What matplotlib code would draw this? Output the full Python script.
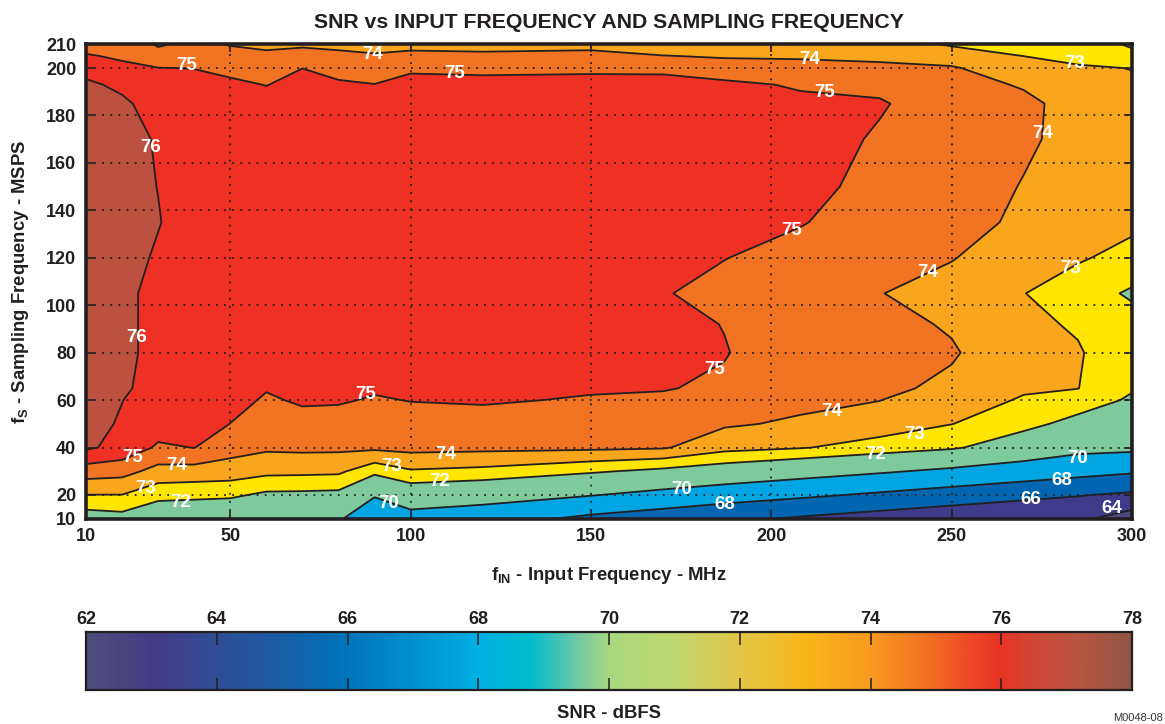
import numpy as np
import matplotlib
matplotlib.use("Agg")
import matplotlib.pyplot as plt
from matplotlib.colors import LinearSegmentedColormap

# ---- data -------------------------------------------------------------
# input frequency (MHz) columns and sampling frequency (MSPS) rows
fin_mhz = [10, 20, 30, 40, 50, 60, 70, 80, 90, 100, 120, 150, 170, 187, 208, 230, 250, 270, 285, 300]
fs_msps = [10, 20, 30, 40, 50, 60, 65, 80, 92, 105, 120, 135, 150, 170, 185, 193, 200, 205, 210]

# SNR in dBFS: one list per input frequency, ordered like fs_msps
snr_fin010 = [71.4, 72.98, 74.5, 76.15, 76.4, 76.4, 76.4, 76.4, 76.4, 76.4, 76.4, 76.4, 76.4, 76.4, 76.4, 76.2, 75.6, 75.1, 74.6]
snr_fin020 = [71.6, 72.98, 74.36, 75.7, 75.88, 76.02, 76.2, 76.4, 76.4, 76.4, 76.4, 76.4, 76.4, 76.4, 76.2, 75.77, 75.23, 74.85, 74.6]
snr_fin030 = [71.0, 72.34, 73.66, 74.85, 75.5, 75.5, 75.5, 75.5, 75.5, 75.5, 75.87, 76.05, 75.98, 75.9, 75.53, 75.35, 75.02, 74.35, 73.9]
snr_fin040 = [70.9, 72.27, 73.6, 75.02, 75.5, 75.5, 75.5, 75.5, 75.5, 75.5, 75.5, 75.5, 75.5, 75.5, 75.5, 75.3, 74.98, 74.5, 74.2]
snr_fin050 = [70.82, 72.19, 73.53, 74.39, 74.99, 75.35, 75.45, 75.5, 75.5, 75.5, 75.5, 75.5, 75.5, 75.5, 75.5, 75.22, 74.7, 74.32, 73.95]
snr_fin060 = [70.27, 71.79, 73.27, 74.16, 74.52, 74.88, 75.06, 75.4, 75.5, 75.5, 75.5, 75.5, 75.5, 75.5, 75.4, 74.97, 74.5, 74.16, 73.84]
snr_fin070 = [70.27, 71.76, 73.24, 74.21, 74.67, 75.12, 75.3, 75.5, 75.5, 75.5, 75.5, 75.5, 75.5, 75.5, 75.5, 75.35, 74.99, 74.42, 73.84]
snr_fin080 = [70.1, 71.7, 73.19, 74.2, 74.64, 75.09, 75.25, 75.5, 75.5, 75.5, 75.5, 75.5, 75.5, 75.5, 75.5, 75.16, 74.6, 74.2, 73.8]
snr_fin090 = [69.33, 70.07, 72.33, 74.2, 74.55, 74.92, 75.1, 75.5, 75.5, 75.5, 75.5, 75.5, 75.5, 75.5, 75.4, 75.02, 74.48, 74.09, 73.7]
snr_fin100 = [69.3, 71.1, 72.9, 74.3, 74.6, 75.03, 75.2, 75.5, 75.5, 75.5, 75.5, 75.5, 75.5, 75.5, 75.5, 75.3, 74.85, 74.27, 73.7]
snr_fin120 = [68.88, 70.78, 72.73, 74.25, 74.61, 75.1, 75.3, 75.5, 75.5, 75.5, 75.5, 75.5, 75.5, 75.5, 75.5, 75.35, 74.73, 74.2, 73.67]
snr_fin150 = [67.57, 70.08, 72.15, 74.2, 74.5, 74.92, 75.1, 75.5, 75.5, 75.5, 75.5, 75.5, 75.5, 75.5, 75.5, 75.35, 74.8, 74.3, 73.7]
snr_fin170 = [66.94, 69.47, 71.72, 74.1, 74.43, 74.85, 75.05, 75.4, 75.3, 75.05, 75.3, 75.5, 75.5, 75.5, 75.5, 75.4, 74.75, 74.04, 73.4]
snr_fin187 = [66.36, 68.92, 71.33, 73.33, 74.13, 74.5, 74.85, 75.05, 74.97, 74.75, 75.02, 75.3, 75.5, 75.5, 75.5, 75.2, 74.45, 73.91, 73.38]
snr_fin208 = [65.77, 68.34, 70.78, 73.07, 73.85, 74.25, 74.3, 74.4, 74.5, 74.3, 74.7, 75.05, 75.3, 75.4, 75.2, 74.9, 74.29, 73.9, 73.5]
snr_fin230 = [65.15, 67.72, 70.21, 72.6, 73.5, 74.02, 74.2, 74.4, 74.3, 74.03, 74.4, 74.6, 74.7, 74.9, 75.08, 74.8, 74.2, 73.8, 73.45]
snr_fin250 = [64.6, 67.14, 69.65, 72.16, 73.02, 73.4, 73.8, 74.1, 73.9, 73.6, 74.05, 74.3, 74.5, 74.6, 74.55, 74.4, 74.1, 73.5, 72.9]
snr_fin270 = [64.03, 66.56, 69.09, 71.22, 72.34, 72.92, 73.1, 73.3, 73.2, 73.02, 73.4, 73.85, 73.95, 74.15, 74.25, 73.9, 73.35, 73.0, 72.6]
snr_fin285 = [64.4, 66.1, 68.66, 70.52, 71.62, 72.57, 73.02, 73.08, 72.9, 72.5, 73.1, 73.35, 73.5, 73.7, 73.6, 73.4, 73.1, 72.75, 72.4]
snr_fin300 = [63.0, 65.7, 68.23, 70.4, 71.1, 71.84, 72.1, 72.4, 72.4, 71.85, 72.7, 73.2, 73.35, 73.4, 73.3, 73.12, 72.98, 72.2, 71.9]

snr_columns = [snr_fin010, snr_fin020, snr_fin030, snr_fin040, snr_fin050, snr_fin060,
               snr_fin070, snr_fin080, snr_fin090, snr_fin100, snr_fin120, snr_fin150,
               snr_fin170, snr_fin187, snr_fin208, snr_fin230, snr_fin250, snr_fin270,
               snr_fin285, snr_fin300]

band_levels = [62, 64, 66, 68, 70, 72, 73, 74, 75, 76, 78]
line_levels = [64, 66, 68, 70, 72, 73, 74, 75, 76]
band_colors = ["#4a4a7e", "#3f3a89", "#0066b1", "#00a5e2", "#7fca9d",
               "#ffe500", "#f9a61c", "#f27321", "#ee3124", "#bb513e"]

# inline contour labels: (level, fin, fs)
label_spots = [
    (75, 38, 200.9), (74, 89.6, 205.5), (75, 112.3, 197.9), (74, 210.7, 203.4),
    (75, 214.9, 189.5), (73, 284.2, 202.1), (74, 275.3, 172.6), (76, 28, 166.7),
    (75, 205.5, 131.3), (74, 243.2, 114), (73, 283.1, 115.3), (76, 23.9, 86.2),
    (75, 87.6, 62.2), (75, 184.4, 72.7), (74, 216.8, 55.4), (73, 239.8, 45.7),
    (72, 229, 36.9), (70, 285, 35.2), (68, 280.6, 26.3), (66, 272, 18.3),
    (64, 294.4, 14.5), (70, 175.2, 22.5), (68, 187.2, 15.8), (75, 23, 36),
    (74, 35.2, 32.4), (73, 26.6, 22.9), (72, 36.1, 17), (73, 94.6, 31.8),
    (74, 109.8, 36.9), (72, 108.1, 25.5), (70, 94, 16.2),
]

x_ticks = [10, 50, 100, 150, 200, 250, 300]
y_ticks = [10, 20, 40, 60, 80, 100, 120, 140, 160, 180, 200, 210]
cbar_ticks = [62, 64, 66, 68, 70, 72, 74, 76, 78]

# colour scale of the SNR bar
cbar_stops = [62, 63, 64, 65, 65.8, 67, 68, 68.8, 69.5, 70, 71, 72, 73, 74, 75, 75.5, 76, 76.6, 77.2, 78]
cbar_colors = ["#4f4f7a", "#443a85", "#2f4d96", "#1a5fa6", "#0070b8", "#0090d0", "#00b0e4",
               "#00bccc", "#70c8a8", "#a8d880", "#c0d870", "#e2c648", "#fab818", "#f89a20",
               "#f06a22", "#f04a26", "#e93324", "#cc4a38", "#b85542", "#8f5545"]

# ---- styling ----------------------------------------------------------
plt.rcParams["font.family"] = ["Liberation Sans", "DejaVu Sans"]
plt.rcParams["font.weight"] = "bold"
plt.rcParams["axes.labelweight"] = "bold"
plt.rcParams["mathtext.fontset"] = "custom"
plt.rcParams["mathtext.bf"] = "Liberation Sans:bold"
plt.rcParams["mathtext.rm"] = "Liberation Sans:bold"
plt.rcParams["mathtext.default"] = "bf"

INK = "#231f20"

fig = plt.figure(figsize=(11.65, 7.24), dpi=100)
ax = fig.add_axes([86 / 1165, 1 - 518.7 / 724, (1132 - 86) / 1165, (518.7 - 44.3) / 724])

X = np.array(fin_mhz, dtype=float)
Y = np.array(fs_msps, dtype=float)
Z = np.array(snr_columns, dtype=float).T

ax.contourf(X, Y, Z, levels=band_levels, colors=band_colors, zorder=1)
ax.contour(X, Y, Z, levels=line_levels, colors=INK, linewidths=1.3, zorder=2)

for lvl, lx, ly in label_spots:
    ax.text(lx, ly, f"{lvl}", color="white", fontsize=13.5, fontweight="bold",
            ha="center", va="center", zorder=5)

ax.set_xlim(10, 300)
ax.set_ylim(10, 210)
ax.set_xticks(x_ticks)
ax.set_yticks(y_ticks)
ax.set_axisbelow(False)
ax.grid(True, color=INK, linestyle=(0, (1, 3.5)), linewidth=1.3, zorder=3)
ax.tick_params(direction="in", length=6, width=1.2, top=True, right=True,
               labelsize=13, pad=7, colors=INK)
for lab in ax.get_xticklabels() + ax.get_yticklabels():
    lab.set_fontweight("bold")
for sp in ax.spines.values():
    sp.set_linewidth(2.6)
    sp.set_color(INK)
    sp.set_zorder(6)

ax.set_title("SNR vs INPUT FREQUENCY AND SAMPLING FREQUENCY", fontsize=15.3,
             fontweight="bold", pad=12, color=INK)
ax.set_xlabel(r"f$_{IN}$ - Input Frequency - MHz", fontsize=13.3, labelpad=14, color=INK)
ax.set_ylabel(r"f$_{S}$ - Sampling Frequency - MSPS", fontsize=13.3, labelpad=11, color=INK)

# ---- colour bar -------------------------------------------------------
snr_cmap = LinearSegmentedColormap.from_list(
    "snr", [((s - cbar_stops[0]) / (cbar_stops[-1] - cbar_stops[0]), c)
            for s, c in zip(cbar_stops, cbar_colors)], N=512)
cax = fig.add_axes([86 / 1165, 1 - 690 / 724, (1132 - 86) / 1165, (690 - 632) / 724])
cax.imshow(np.linspace(cbar_ticks[0], cbar_ticks[-1], 512).reshape(1, -1),
           extent=(cbar_ticks[0], cbar_ticks[-1], 0, 1), aspect="auto", cmap=snr_cmap)
cax.set_xlim(cbar_ticks[0], cbar_ticks[-1])
cax.set_ylim(0, 1)
cax.set_yticks([])
cax.set_xticks(cbar_ticks)
cax.tick_params(axis="x", direction="in", length=9, width=1.1, top=True, bottom=True,
                labeltop=True, labelbottom=False, labelsize=13, pad=3, colors=INK)
for lab in cax.get_xticklabels():
    lab.set_fontweight("bold")
for sp in cax.spines.values():
    sp.set_linewidth(1.6)
    sp.set_color(INK)
fig.text((86 + 1132) / 2 / 1165, 1 - 714 / 724, "SNR - dBFS", ha="center", va="center",
         fontsize=13.3, fontweight="bold", color=INK)
fig.text(1163 / 1165, 0.002, "M0048-08", ha="right", va="bottom", fontsize=8,
         fontweight="normal", color="#333333")

fig.savefig("out.png", dpi=100)
